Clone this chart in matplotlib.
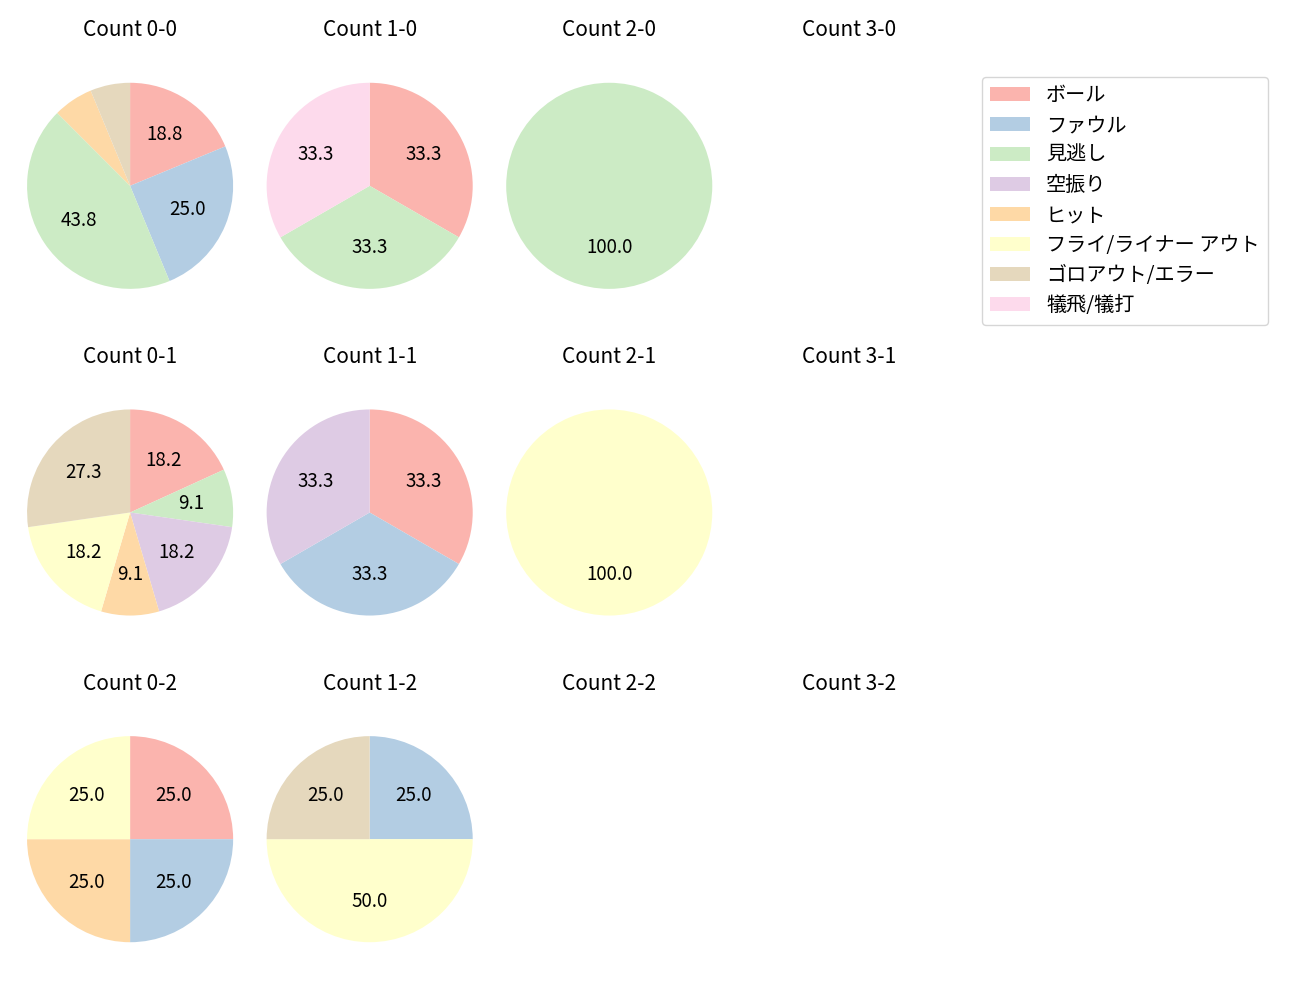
import matplotlib
matplotlib.use("Agg")
import matplotlib.pyplot as plt
from matplotlib.patches import Patch

plt.rcParams['font.family'] = ['Noto Sans CJK JP', 'DejaVu Sans']

categories = ["ボール", "ファウル", "見逃し", "空振り", "ヒット",
              "フライ/ライナー アウト", "ゴロアウト/エラー", "犠飛/犠打"]
colors = plt.cm.Pastel1.colors[:8]

# pitch counts per result category, for each ball-strike count
counts = {
    "0-0": [3, 4, 7, 0, 1, 0, 1, 0],
    "1-0": [1, 0, 1, 0, 0, 0, 0, 1],
    "2-0": [0, 0, 1, 0, 0, 0, 0, 0],
    "3-0": [0, 0, 0, 0, 0, 0, 0, 0],
    "0-1": [2, 0, 1, 2, 1, 2, 3, 0],
    "1-1": [1, 1, 0, 1, 0, 0, 0, 0],
    "2-1": [0, 0, 0, 0, 0, 1, 0, 0],
    "3-1": [0, 0, 0, 0, 0, 0, 0, 0],
    "0-2": [1, 1, 0, 0, 1, 1, 0, 0],
    "1-2": [0, 1, 0, 0, 0, 2, 1, 0],
    "2-2": [0, 0, 0, 0, 0, 0, 0, 0],
    "3-2": [0, 0, 0, 0, 0, 0, 0, 0],
}
balls = [0, 1, 2, 3]
strikes = [0, 1, 2]

fig, axes = plt.subplots(3, 4, figsize=(13, 10))
fig.subplots_adjust(left=0.001, right=0.752, bottom=0.032, top=0.943,
                    wspace=-0.07, hspace=0.268)

for s in strikes:
    for b in balls:
        ax = axes[s][b]
        key = f"{b}-{s}"
        vals = counts[key]
        ax.set_title(f"Count {key}", fontsize=15, pad=15)
        if sum(vals) == 0:
            ax.axis("off")
            continue
        data = [(v, c) for v, c in zip(vals, colors) if v > 0]
        ax.pie([d[0] for d in data], colors=[d[1] for d in data],
               startangle=90, counterclock=False,
               autopct=lambda p: f"{p:.1f}" if p > 7 else "",
               textprops={"fontsize": 13.5})

handles = [Patch(facecolor=c, label=l) for c, l in zip(colors, categories)]
fig.legend(handles=handles, loc="upper left", bbox_to_anchor=(0.755, 0.923),
           borderaxespad=0, fontsize=14.5, labelspacing=0.45)

fig.savefig("out.png", dpi=100)
